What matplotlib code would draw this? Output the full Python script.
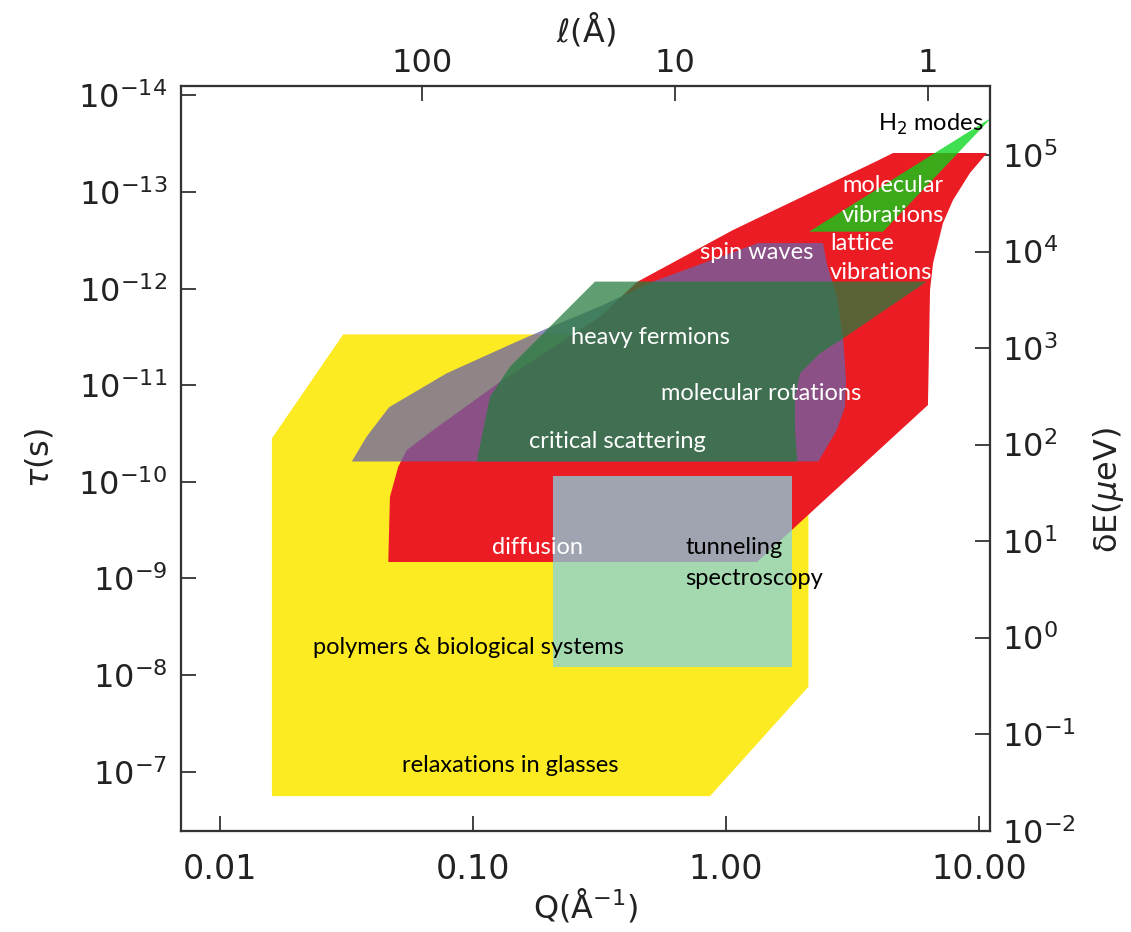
import numpy as np
import matplotlib.pyplot as plt

plt.rcParams['font.family'] = ['DejaVu Sans']

h_uev = 4.1357e-9  # Planck constant in micro-eV * s, converts tau -> dE

q_lim = (0.00704, 11.06)
tau_lim = (4.08e-7, 7.98e-15)

# polymers & biological systems / relaxations in glasses
yellow_q = [0.0161, 0.0161, 0.0308, 2.12, 2.12, 0.866]
yellow_tau = [1.79e-7, 3.54e-11, 2.97e-12, 2.97e-12, 1.32e-8, 1.79e-7]

# diffusion, lattice vibrations, molecular vibrations
red_q = [0.0464, 0.0471, 0.0508, 0.0549, 0.0699, 0.128, 0.318, 0.446, 1.068,
         3.96, 4.58, 10.76, 9.22, 7.90, 7.21, 6.59, 6.41, 6.29, 1.328]
red_tau = [6.75e-10, 1.43e-10, 6.97e-11, 4.68e-11, 2.90e-11, 9.25e-12, 1.96e-12,
           8.53e-13, 2.47e-13, 4.76e-14, 3.94e-14, 3.94e-14, 6.34e-14, 1.21e-13,
           2.09e-13, 5.42e-13, 1.03e-12, 1.60e-11, 6.75e-10]

# spin waves, molecular rotations
purple_q = [0.0333, 0.0381, 0.0467, 0.0789, 0.1446, 0.190, 0.318, 0.511, 1.340,
            2.421, 2.505, 2.744, 2.912, 2.985, 2.958, 2.744, 2.320]
purple_tau = [6.15e-11, 3.40e-11, 1.69e-11, 7.52e-12, 3.67e-12, 2.68e-12, 1.53e-12,
              8.53e-13, 3.37e-13, 3.37e-13, 5.46e-13, 1.21e-12, 3.40e-12, 8.81e-12,
              1.67e-11, 2.90e-11, 6.15e-11]

# heavy fermions, critical scattering
green_q = [0.1037, 0.1170, 0.1404, 0.3042, 6.22, 2.912, 2.356, 1.964, 1.877, 1.877, 1.916]
green_tau = [6.15e-11, 1.32e-11, 6.41e-12, 8.45e-13, 8.45e-13, 3.26e-12, 4.67e-12,
             7.52e-12, 1.31e-11, 2.90e-11, 6.15e-11]

# tunneling spectroscopy
tunnel_q = [0.2071, 1.831]
tunnel_tau = [8.18e-9, 8.63e-11]

# H2 modes
h2_q = [2.132, 4.179, 11.27]
h2_tau = [2.57e-13, 2.57e-13, 1.68e-14]

label_text = ['polymers & biological systems', 'relaxations in glasses', 'tunneling',
              'spectroscopy', 'diffusion', 'critical scattering', 'molecular rotations',
              'heavy fermions', 'spin waves', 'lattice', 'vibrations', 'molecular',
              'vibrations', 'H$_2$ modes']
label_q = [0.0958, 0.1404, 0.690, 0.690, 0.1795, 0.3716, 1.377, 0.506, 1.328,
           2.58, 2.58, 4.578, 4.578, 6.47]
label_tau = [5.12e-9, 8.53e-8, 4.83e-10, 1.01e-9, 4.83e-10, 3.86e-11, 1.23e-11,
             3.24e-12, 4.27e-13, 3.37e-13, 6.87e-13, 8.45e-14, 1.73e-13, 1.97e-14]
label_color = ['k', 'k', 'k', 'k', 'w', 'w', 'w', 'w', 'w', 'w', 'w', 'w', 'w', 'k']
label_ha = ['center', 'center', 'left', 'left', 'center', 'center', 'center', 'center',
            'center', 'left', 'left', 'center', 'center', 'center']

q_ticks = [0.01, 0.1, 1, 10]
q_ticklabels = ['0.01', '0.10', '1.00', '10.00']
tau_ticks = 10.0 ** np.arange(-14, -6)
ell_ticks = [100, 10, 1]
dE_exp = np.arange(-2, 6)

fig = plt.figure(figsize=(11.31, 9.32), dpi=100)
ax = fig.add_axes([181 / 1131, 1 - 830.7 / 932, 809 / 1131, 744.7 / 932])
axt = ax.twiny()
axr = ax.twinx()
ax.set_zorder(3)
ax.patch.set_visible(False)

for a in (ax, axt, axr):
    a.set_xscale('log')
    a.set_yscale('log')
    a.set_xlim(q_lim)
    a.set_ylim(tau_lim)
    a.minorticks_off()
    for sp in a.spines.values():
        sp.set_linewidth(1.5)
        sp.set_color('#333333')

ax.fill(yellow_q, yellow_tau, color='#fcea23', lw=0)
ax.fill(red_q, red_tau, color='#ec1c24', lw=0)
ax.fill(purple_q, purple_tau, color=(107/255, 99/255, 169/255), alpha=0.75, lw=0)
ax.fill(green_q, green_tau, color=(38/255, 124/255, 62/255), alpha=0.74, lw=0)
ax.fill([tunnel_q[0], tunnel_q[1], tunnel_q[1], tunnel_q[0]],
        [tunnel_tau[0], tunnel_tau[0], tunnel_tau[1], tunnel_tau[1]],
        color=(134/255, 212/255, 226/255), alpha=0.74, lw=0)
ax.fill(h2_q, h2_tau, color=(4/255, 214/255, 25/255), alpha=0.76, lw=0)

for s, q, t, c, ha in zip(label_text, label_q, label_tau, label_color, label_ha):
    ax.text(q, t, s, color=c, ha=ha, va='center', fontsize=17, family=['Lato', 'DejaVu Sans'])

tick_kw = dict(direction='in', length=11, width=1.3, color='#333333', labelcolor='#222222')
ax.set_xticks(q_ticks)
ax.set_xticklabels(q_ticklabels)
ax.set_yticks(tau_ticks)
ax.tick_params(axis='x', pad=16, labelsize=24, **tick_kw)
ax.tick_params(axis='y', pad=10, labelsize=23, **tick_kw)

axt.set_xticks([2 * np.pi / l for l in ell_ticks])
axt.set_xticklabels([str(l) for l in ell_ticks])
axt.tick_params(axis='x', pad=5, labelsize=23, **tick_kw)

axr.set_yticks([h_uev / 10.0 ** k for k in dE_exp])
axr.set_yticklabels([r'$\mathdefault{10^{%d}}$' % k for k in dE_exp])
axr.tick_params(axis='y', pad=9, labelsize=23, **tick_kw)

lab_kw = dict(transform=ax.transAxes, ha='center', va='center', fontsize=23, color='#222222')
ax.text(0.5, -0.0998, 'Q(Å$^{-1}$)', **lab_kw)
ax.text(0.5, 1.0752, r'$\ell$(Å)', **lab_kw)
ax.text(-0.1743, 0.5005, r'$\tau$(s)', rotation=90, **lab_kw)
ax.text(1.1459, 0.4575, r'δE($\mu$eV)', rotation=90, **lab_kw)

fig.savefig('out.png', dpi=100)
